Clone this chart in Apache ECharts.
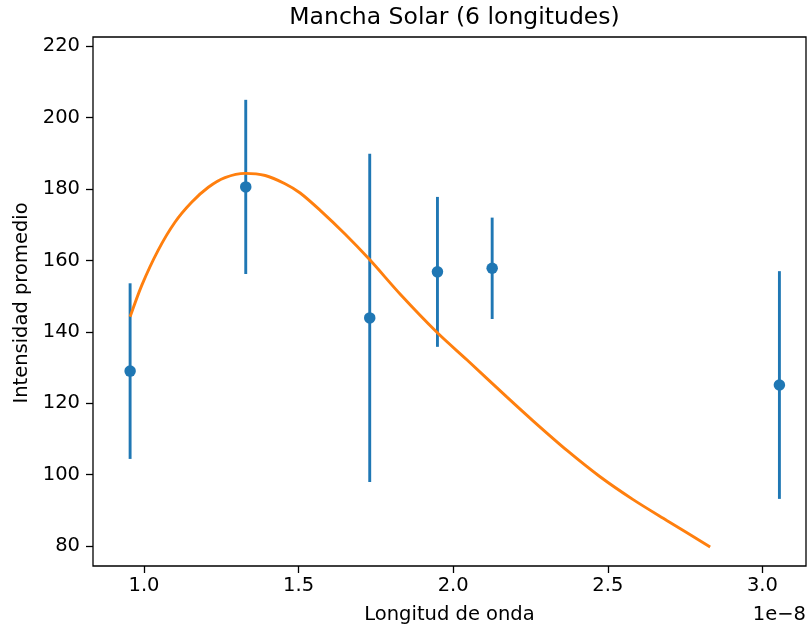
<!DOCTYPE html>
<html>
<head>
<meta charset="utf-8">
<script src="https://cdn.jsdelivr.net/npm/echarts@6/dist/echarts.min.js"></script>
<style>
  html, body { margin: 0; padding: 0; background: #fff; }
  #chart { width: 808px; height: 636px; }
</style>
</head>
<body>
<div id="chart"></div>
<script>
// Wavelength (units of 1e-8) of each measured longitude
const wavelengths = [0.955, 1.329, 1.730, 1.949, 2.126, 3.055];
// Mean intensity and its uncertainty at each wavelength
const intensities = [129.0, 180.6, 143.9, 156.8, 157.8, 125.1];
const errors      = [24.6, 24.4, 46.0, 21.0, 14.2, 31.9];

// Fitted curve, sampled along the wavelength axis
const fitX = [0.955, 0.993, 1.046, 1.100, 1.154, 1.208, 1.262, 1.327, 1.392, 1.456,
              1.505, 1.569, 1.650, 1.731, 1.828, 1.948, 2.045, 2.174, 2.259, 2.369,
              2.475, 2.582, 2.692, 2.831];
const fitY = [144.2, 153.1, 162.9, 170.7, 176.3, 180.5, 183.2, 184.4, 183.8, 181.5,
              178.9, 174.1, 167.4, 160.1, 150.6, 139.8, 132.1, 121.7, 115.0, 106.7,
              99.4, 93.0, 87.1, 79.75];

// Tick labels
const xTicks = [1.0, 1.5, 2.0, 2.5, 3.0];
const yTicks = [80, 100, 120, 140, 160, 180, 200, 220];

const BLUE = '#1f77b4';
const ORANGE = '#ff7f0e';
const FONT = 'DejaVu Sans';

const errData = wavelengths.map((x, i) => [x, intensities[i] - errors[i], intensities[i] + errors[i]]);
const pointData = wavelengths.map((x, i) => [x, intensities[i]]);
const fitData = fitX.map((x, i) => [x, fitY[i]]);

const chart = echarts.init(document.getElementById('chart'), null, { renderer: 'canvas' });

const tickStyle = { show: true, inside: false, length: 7, lineStyle: { color: '#000', width: 1.3 } };
const labelStyle = { color: '#000', fontFamily: FONT, fontSize: 19.5 };

chart.setOption({
  animation: false,
  backgroundColor: '#fff',
  title: {
    text: 'Mancha Solar (6 longitudes)',
    left: 449.5,
    top: 1,
    textAlign: 'center',
    textStyle: { color: '#000', fontFamily: FONT, fontSize: 23.5, fontWeight: 'normal' }
  },
  grid: {
    left: 93, right: 2, top: 37, bottom: 70,
    show: true, borderColor: '#000', borderWidth: 1.3, backgroundColor: 'transparent'
  },
  xAxis: {
    type: 'value',
    min: 0.835,
    max: 3.141,
    axisLine: { show: false },
    splitLine: { show: false },
    axisTick: Object.assign({ customValues: xTicks }, tickStyle),
    axisLabel: Object.assign({
      customValues: xTicks,
      margin: 10,
      formatter: v => v.toFixed(1)
    }, labelStyle)
  },
  yAxis: {
    type: 'value',
    min: 74.4,
    max: 222.6,
    axisLine: { show: false },
    splitLine: { show: false },
    axisTick: Object.assign({ customValues: yTicks }, tickStyle),
    axisLabel: Object.assign({ customValues: yTicks, margin: 13 }, labelStyle)
  },
  graphic: [
    {
      type: 'text', x: 449.5, y: 615,
      style: { text: 'Longitud de onda', font: '19.5px "DejaVu Sans"', fill: '#000',
               textAlign: 'center', textVerticalAlign: 'middle' }
    },
    {
      type: 'text', x: 806, y: 615,
      style: { text: '1e\u22128', font: '19.5px "DejaVu Sans"', fill: '#000',
               textAlign: 'right', textVerticalAlign: 'middle' }
    },
    {
      type: 'text', x: 22, y: 303, rotation: Math.PI / 2,
      style: { text: 'Intensidad promedio', font: '19.5px "DejaVu Sans"', fill: '#000',
               textAlign: 'center', textVerticalAlign: 'middle' }
    }
  ],
  series: [
    {
      type: 'custom',
      data: errData,
      encode: { x: 0, y: [1, 2] },
      z: 2,
      renderItem: function (params, api) {
        const x = api.value(0);
        const lo = api.coord([x, api.value(1)]);
        const hi = api.coord([x, api.value(2)]);
        return {
          type: 'line',
          shape: { x1: lo[0], y1: lo[1], x2: hi[0], y2: hi[1] },
          style: { stroke: BLUE, lineWidth: 2.9 }
        };
      }
    },
    {
      type: 'scatter',
      data: pointData,
      symbol: 'circle',
      symbolSize: 11.5,
      itemStyle: { color: BLUE, opacity: 1 },
      z: 3
    },
    {
      type: 'line',
      data: fitData,
      showSymbol: false,
      smooth: 0.3,
      lineStyle: { color: ORANGE, width: 2.9 },
      z: 4
    }
  ]
});
</script>
</body>
</html>
